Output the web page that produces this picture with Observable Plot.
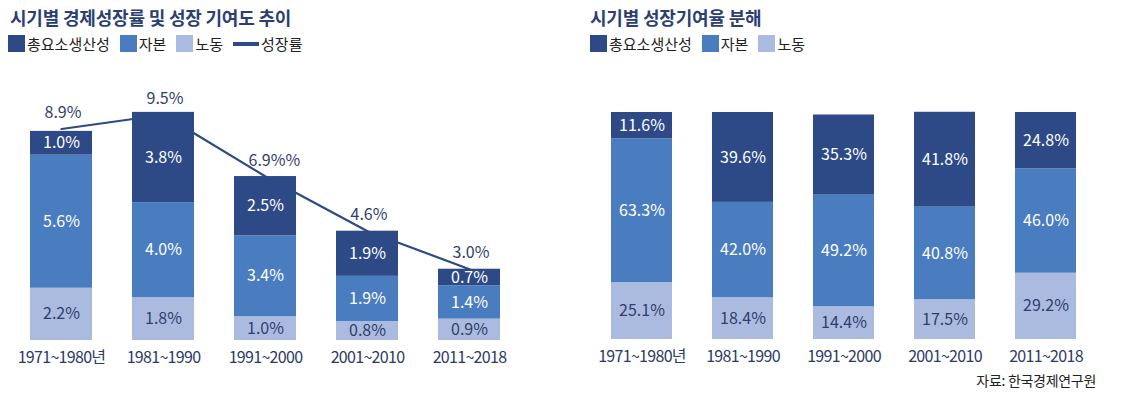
<!DOCTYPE html>
<html><head><meta charset="utf-8">
<script src="https://cdn.jsdelivr.net/npm/d3@7"></script>
<script src="https://cdn.jsdelivr.net/npm/@observablehq/plot@0.6"></script>
<style>
body{margin:0;background:#fff;font-family:"Noto Sans CJK KR",sans-serif;}
#wrap{position:relative;width:1126px;height:396px;overflow:hidden;background:#fff;}
.title{position:absolute;font-size:18px;font-weight:700;color:#2b3f73;letter-spacing:-0.2px;line-height:1;white-space:nowrap;}
.legend{position:absolute;display:flex;align-items:center;font-size:15px;color:#222;line-height:1;white-space:nowrap;}
.sw{display:inline-block;width:17px;height:17px;margin-right:2px;}
.ln{display:inline-block;width:26px;height:4px;margin-right:2px;}
.item{display:flex;align-items:center;margin-right:10px;}
.plot{position:absolute;top:0;}
.src{position:absolute;font-size:14px;color:#222;right:30px;top:373px;line-height:1;white-space:nowrap;letter-spacing:-0.3px;}
[aria-label="x-axis tick label"] text{letter-spacing:-0.7px;}
</style></head>
<body><div id="wrap"></div>
<script>
const periods = ["1971~1980년","1981~1990","1991~2000","2001~2010","2011~2018"];
const seriesNames = ["총요소생산성","자본","노동"];
const tfp = [1.0,3.8,2.5,1.9,0.7];
const capital = [5.6,4.0,3.4,1.9,1.4];
const labor = [2.2,1.8,1.0,0.8,0.9];
const growth = [8.9,9.5,6.9,4.6,3.0];
const growthLabels = ["8.9%","9.5%","6.9%%","4.6%","3.0%"];
const tfpShare = [11.6,39.6,35.3,41.8,24.8];
const capitalShare = [63.3,42.0,49.2,40.8,46.0];
const laborShare = [25.1,18.4,14.4,17.5,29.2];

const colorOf = {"총요소생산성":"#2d4a86","자본":"#4a7dc0","노동":"#abbbdf"};
const navy = "#2f3e6e";
const lineColor = "#2d4a86";

function build(tf, ca, la){
  const out = [];
  periods.forEach((p,i)=>{
    out.push({period:p, series:"노동", value:la[i]});
    out.push({period:p, series:"자본", value:ca[i]});
    out.push({period:p, series:"총요소생산성", value:tf[i]});
  });
  return out;
}
const leftData = build(tfp, capital, labor);
const rightData = build(tfpShare, capitalShare, laborShare);
const growthData = periods.map((p,i)=>({period:p, growth:growth[i], label:growthLabels[i]}));

const wrap = document.getElementById("wrap");

function addTitle(text, x){
  const t = document.createElement("div");
  t.className = "title"; t.textContent = text;
  t.style.left = x+"px"; t.style.top = "8px";
  wrap.appendChild(t);
}
function addLegend(x, withLine){
  const lg = document.createElement("div");
  lg.className = "legend"; lg.style.left = x+"px"; lg.style.top = "35px";
  seriesNames.forEach(s=>{
    const it = document.createElement("span"); it.className="item";
    const sw = document.createElement("span"); sw.className="sw"; sw.style.background=colorOf[s];
    it.appendChild(sw); it.appendChild(document.createTextNode(s));
    lg.appendChild(it);
  });
  if(withLine){
    const it = document.createElement("span"); it.className="item";
    const sw = document.createElement("span"); sw.className="ln"; sw.style.background=lineColor;
    it.appendChild(sw); it.appendChild(document.createTextNode("성장률"));
    lg.appendChild(it);
  }
  wrap.appendChild(lg);
}

const common = {
  height: 396,
  color: {type:"identity"},
  style: {fontFamily:"'Noto Sans CJK KR', sans-serif", fontSize:"16px", background:"transparent", overflow:"visible"}
};
function labelMarks(data){
  return Plot.text(data, Plot.stackY({
    x:"period", y:"value", z:"series",
    text: d => d.value.toFixed(1)+"%",
    fill: d => d.series==="노동" ? navy : "white",
    fontSize:16
  }));
}

const left = Plot.plot({
  ...common,
  width: 560,
  marginLeft: 19, marginRight: 49, marginTop: 100, marginBottom: 56,
  x: {domain: periods, paddingInner: 0.39, paddingOuter: 0.1, label:null},
  y: {domain: [0, 10.1], axis: null},
  marks: [
    Plot.lineY(growthData, {x:"period", y:"growth", stroke: lineColor, strokeWidth: 2.2}),
    Plot.barY(leftData, {x:"period", y:"value", z:"series", fill: d => colorOf[d.series]}),
    labelMarks(leftData),
    Plot.text(growthData, {x:"period", y:"growth", text:"label", dy:-16, dx:-17, textAnchor:"start", fill:navy, fontSize:16}),
    Plot.axisX({tickSize:0, tickPadding:11, fontSize:16, color:"#2c3a66", label:null})
  ]
});
left.classList.add("plot"); left.style.left = "0px";
wrap.appendChild(left);

const right = Plot.plot({
  ...common,
  width: 566,
  marginLeft: 40, marginRight: 39, marginTop: 112, marginBottom: 57,
  x: {domain: periods, paddingInner: 0.4, paddingOuter: 0.1, label:null},
  y: {domain: [0, 100], axis: null},
  marks: [
    Plot.barY(rightData, {x:"period", y:"value", z:"series", fill: d => colorOf[d.series]}),
    labelMarks(rightData),
    Plot.axisX({tickSize:0, tickPadding:11, fontSize:16, color:"#2c3a66", label:null})
  ]
});
right.classList.add("plot"); right.style.left = "560px";
wrap.appendChild(right);

addTitle("시기별 경제성장률 및 성장 기여도 추이", 10);
addLegend(8, true);
addTitle("시기별 성장기여율 분해", 590);
addLegend(590, false);

const src = document.createElement("div");
src.className = "src"; src.textContent = "자료: 한국경제연구원";
wrap.appendChild(src);
</script>
</body></html>
